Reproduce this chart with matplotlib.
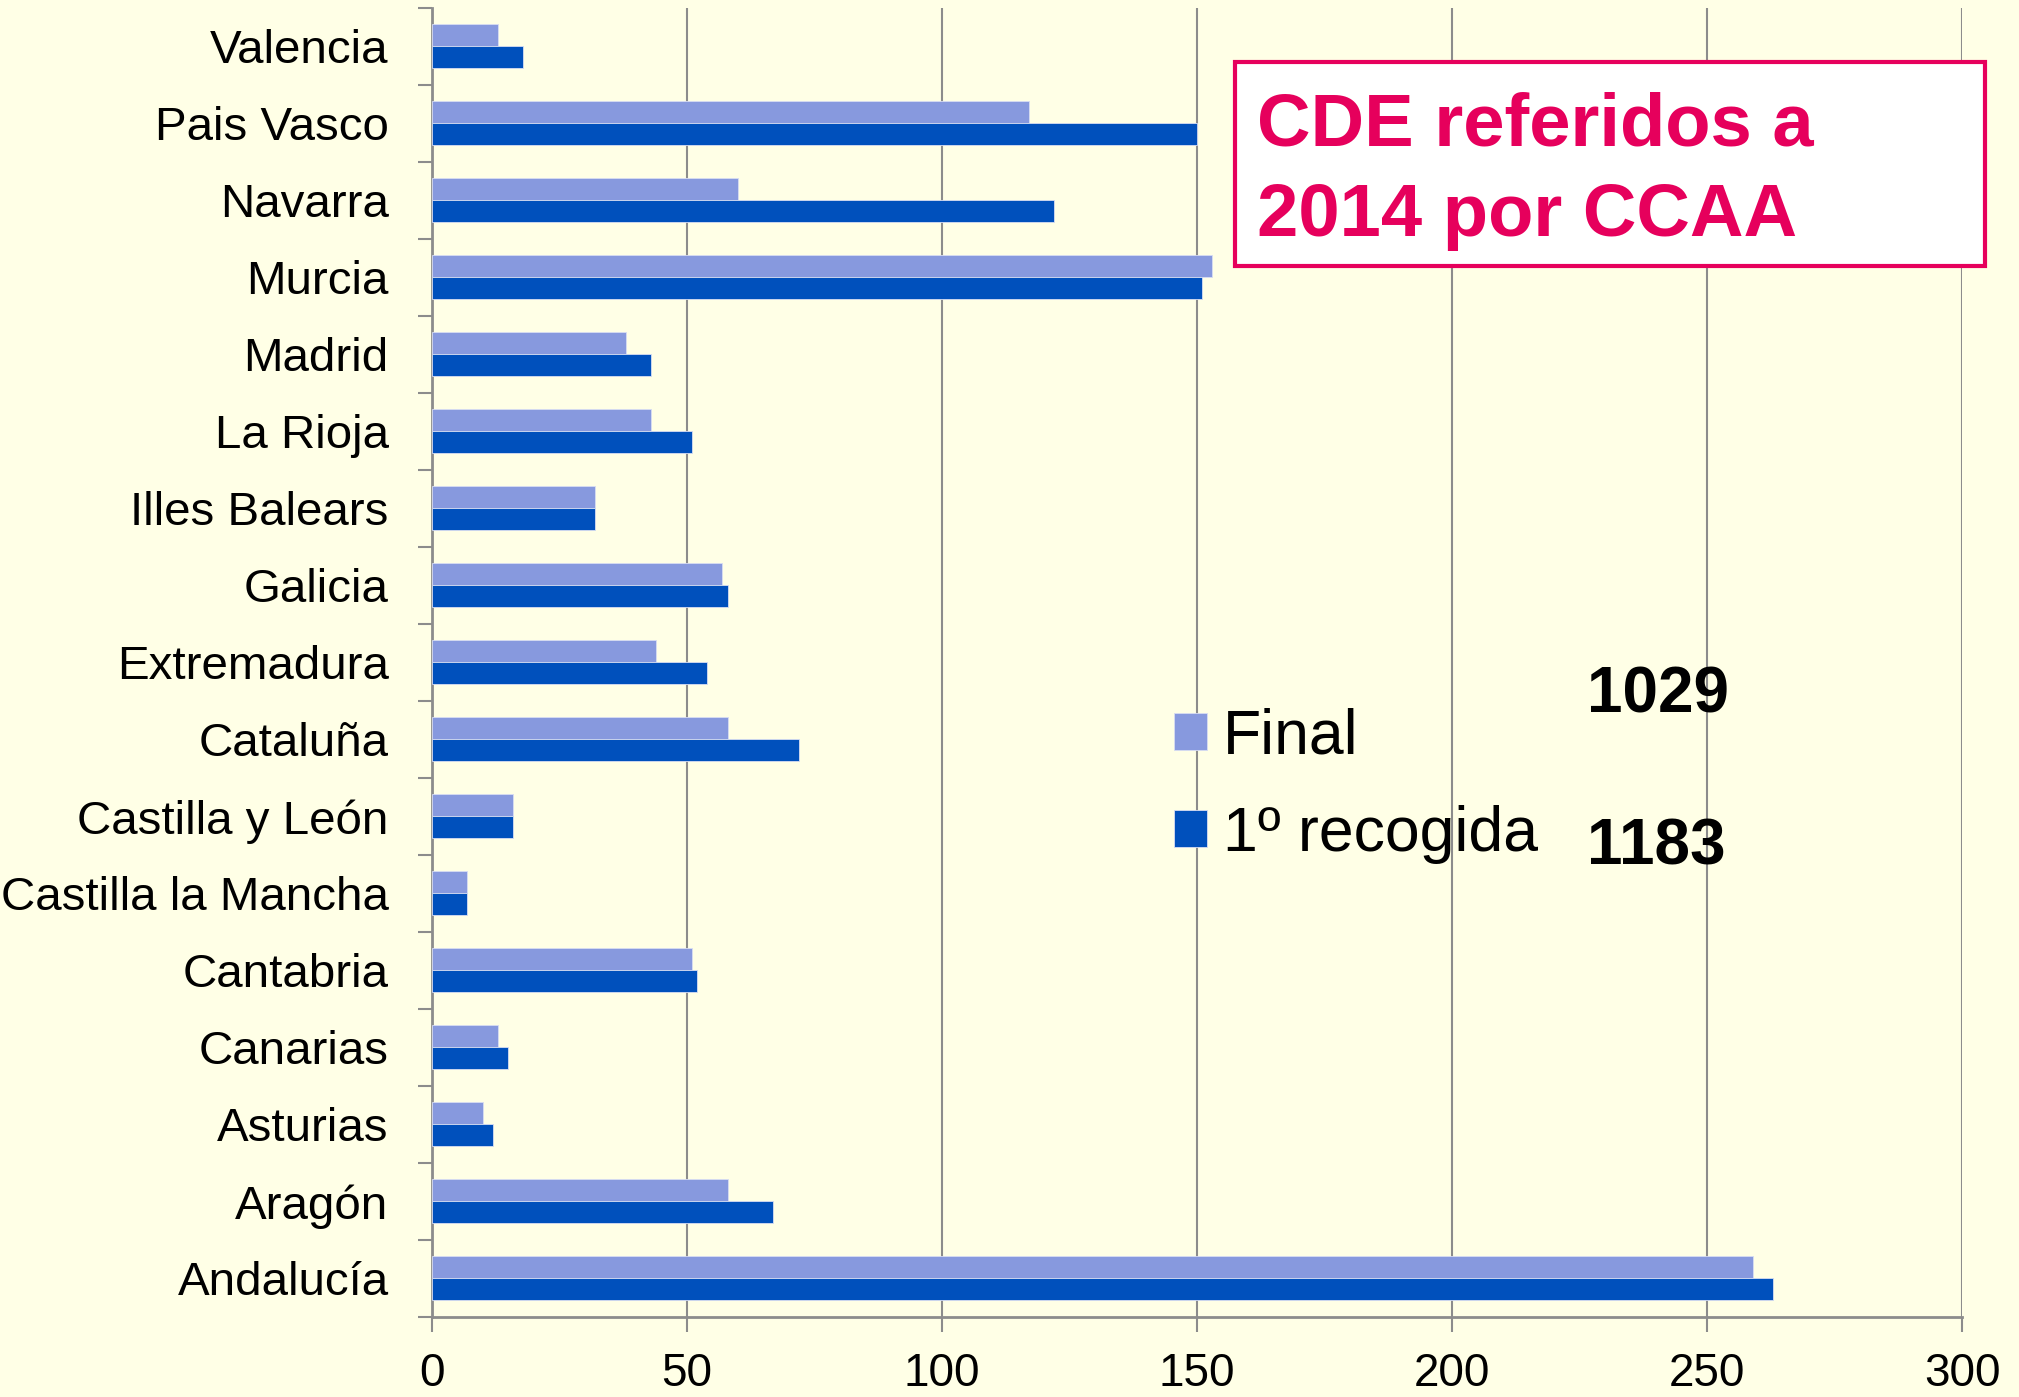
import numpy as np
import matplotlib
matplotlib.use("Agg")
import matplotlib.pyplot as plt
from matplotlib.patches import Rectangle

# Data: CDE per comunidad autonoma (bottom to top)
regions = ["Andalucía", "Aragón", "Asturias", "Canarias", "Cantabria",
           "Castilla la Mancha", "Castilla y León", "Cataluña", "Extremadura",
           "Galicia", "Illes Balears", "La Rioja", "Madrid", "Murcia",
           "Navarra", "Pais Vasco", "Valencia"]
final = [259, 58, 10, 13, 51, 7, 16, 58, 44, 57, 32, 43, 38, 153, 60, 117, 13]
first = [263, 67, 12, 15, 52, 7, 16, 72, 54, 58, 32, 51, 43, 151, 122, 150, 18]
xticks = [0, 50, 100, 150, 200, 250, 300]

bg = "#FFFFE6"
c_final = "#8799DE"
c_first = "#0050BC"
pink = "#E6005C"
grey = "#8C8C8C"

plt.rcParams['font.family'] = ['Liberation Sans', 'DejaVu Sans']

fig = plt.figure(figsize=(20.19, 13.97), dpi=100, facecolor=bg)
ax = fig.add_axes([0.2138, 0.0573, 0.758, 0.9370], facecolor=bg)

y = np.arange(len(regions))
h = 0.286
b1 = ax.barh(y + h / 2, final, height=h, color=c_final, edgecolor="#D8DDF2", linewidth=0.6, label="Final", zorder=3)
b2 = ax.barh(y - h / 2, first, height=h, color=c_first, edgecolor="#D8DDF2", linewidth=0.6, label="1º recogida", zorder=3)

ax.set_xlim(0, 300)
ax.set_ylim(-0.5, len(regions) - 0.5)
ax.set_xticks(xticks)
ax.set_xticklabels([str(t) for t in xticks], fontsize=33)
ax.xaxis.grid(True, color=grey, linewidth=1.5, zorder=0)
ax.tick_params(axis="x", length=11, width=1.5, color=grey, pad=14)

# category labels at centres, tick marks at boundaries
ax.set_yticks(y)
ax.set_yticklabels(regions, fontsize=34.2)
ax.tick_params(axis="y", which="major", length=0, pad=31)
ax.set_yticks(np.arange(len(regions) + 1) - 0.5, minor=True)
ax.tick_params(axis="y", which="minor", length=10, width=1.5, color=grey)

for s in ["top", "right"]:
    ax.spines[s].set_visible(False)
for s in ["left", "bottom"]:
    ax.spines[s].set_color(grey)
    ax.spines[s].set_linewidth(2)

leg = ax.legend(handles=[b1, b2], loc="upper left", bbox_to_anchor=(0.566, 0.516),
                bbox_transform=fig.transFigure, frameon=False, fontsize=45,
                handlelength=0.53, handleheight=0.53, handletextpad=0.25,
                labelspacing=0.61, borderpad=0)

# totals
fig.text(0.786, 0.490, str(sum(final)), fontsize=46, fontweight="bold", va="baseline")
fig.text(0.786, 0.381, str(sum(first)), fontsize=46, fontweight="bold", va="baseline")

# title box
fig.patches.append(Rectangle((0.6119, 0.8096), 0.3712, 0.146, transform=fig.transFigure,
                             facecolor="white", edgecolor=pink, linewidth=3, zorder=5))
fig.text(0.6226, 0.8955, "CDE referidos a", fontsize=53.5, fontweight="bold", color=pink,
         va="baseline", zorder=6)
fig.text(0.6226, 0.8311, "2014 por CCAA", fontsize=53.5, fontweight="bold", color=pink,
         va="baseline", zorder=6)

fig.savefig("out.png", dpi=100, facecolor=bg)
